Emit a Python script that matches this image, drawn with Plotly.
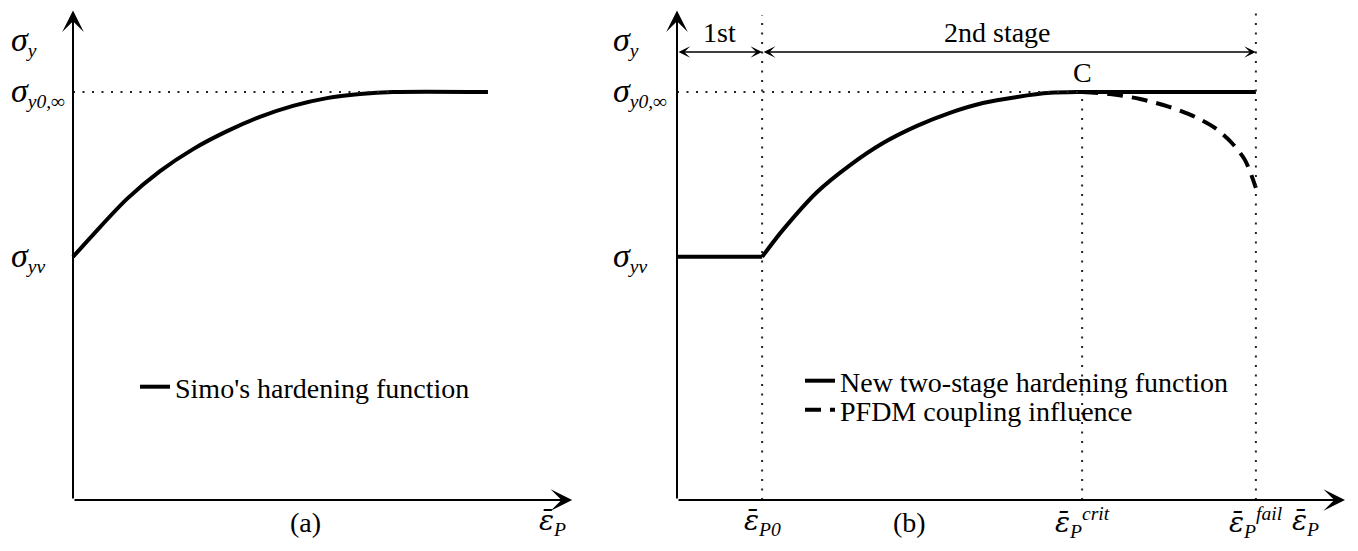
import plotly.graph_objects as go

# stress levels (normalised by sigma_y0,inf)
sigma_yv = 0.596
sigma_inf = 1.0

# plastic strain markers used in panel (b)
eps_p0 = 0.266
eps_crit = 1.266
eps_fail = 1.809

# (a) Simo's hardening curve
simo_eps = [0.0, 0.064, 0.173, 0.279, 0.385, 0.494, 0.599, 0.705, 0.814, 0.920, 1.026, 1.33]
simo_sig = [0.596, 0.650, 0.738, 0.806, 0.860, 0.904, 0.939, 0.966, 0.985, 0.995, 1.0, 1.0]

# (b) new two-stage hardening function (second stage, from eps_p0 on)
two_eps = [0.266, 0.331, 0.438, 0.541, 0.644, 0.750, 0.853, 0.956, 1.063, 1.166, 1.266, 1.809]
two_sig = [0.596, 0.662, 0.755, 0.821, 0.875, 0.917, 0.949, 0.973, 0.988, 0.998, 1.0, 1.0]

# (b) PFDM coupling influence (softening after C)
pfdm_eps = [1.266, 1.353, 1.447, 1.541, 1.619, 1.681, 1.734, 1.775, 1.809]
pfdm_sig = [1.0, 0.995, 0.983, 0.963, 0.939, 0.912, 0.875, 0.833, 0.765]

FONT = "'Liberation Serif', 'DejaVu Serif', serif"
FS = 28
DOT = "2px,7.5px"
y_top = 1.2      # tip of the vertical axes
x_top_a = 1.6    # tip of the horizontal axis in (a)
x_top_b = 2.0875 # tip of the horizontal axis in (b)
dim_y = 1.098    # level of the stage dimension arrows

# page layout: the browser body adds an 8px offset, origins of both panels in page pixels
W, H, SHIFT = 1358, 551, 8
OXA, OXB, OY = 73, 677, 500
SXA, SXB, SY = 312, 320, 408

def xrange_for(dom, ox, sx):
  left = dom[0] * W + SHIFT
  right = dom[1] * W + SHIFT
  return [(left - ox) / sx, (right - ox) / sx]

yrng = [(OY - (H + SHIFT)) / SY, (OY - SHIFT) / SY]
dom_a, dom_b = [0, 0.5], [0.44, 1]

fig = go.Figure()

# ---- curves
fig.add_trace(go.Scatter(x=simo_eps, y=simo_sig, mode="lines", name="Simo's hardening function",
                         line=dict(color="black", width=4, shape="spline", smoothing=0.8), legend="legend",
                         xaxis="x", yaxis="y", cliponaxis=False))
fig.add_trace(go.Scatter(x=[0, eps_p0], y=[sigma_yv, sigma_yv], mode="lines", showlegend=False,
                         line=dict(color="black", width=4), xaxis="x2", yaxis="y2"))
fig.add_trace(go.Scatter(x=two_eps, y=two_sig, mode="lines", name="New two-stage hardening function",
                         line=dict(color="black", width=4, shape="spline", smoothing=0.8), legend="legend2",
                         xaxis="x2", yaxis="y2", cliponaxis=False))
fig.add_trace(go.Scatter(x=pfdm_eps, y=pfdm_sig, mode="lines", name="PFDM coupling influence",
                         line=dict(color="black", width=4, dash="16px,9px", shape="spline", smoothing=0.8),
                         legend="legend3", xaxis="x2", yaxis="y2", cliponaxis=False))

# ---- dotted guide lines
def guide(xs, ys, xa, ya):
  fig.add_trace(go.Scatter(x=xs, y=ys, mode="lines", showlegend=False, hoverinfo="skip",
                           line=dict(color="#222", width=2, dash=DOT), xaxis=xa, yaxis=ya))

guide([0, simo_eps[-2]], [sigma_inf, sigma_inf], "x", "y")
guide([0, eps_crit], [sigma_inf, sigma_inf], "x2", "y2")
guide([eps_p0, eps_p0], [0, 1.189], "x2", "y2")
guide([eps_crit, eps_crit], [0, sigma_inf], "x2", "y2")
guide([eps_fail, eps_fail], [0, y_top], "x2", "y2")

# ---- axes drawn as arrows
anns = []
def arrow(x0, y0, x1, y1, xr, yr, width=2, size=1.8, both=False):
  a = dict(x=x1, y=y1, ax=x0, ay=y0, xref=xr, yref=yr, axref=xr, ayref=yr, text="",
           showarrow=True, arrowhead=3, arrowwidth=width, arrowsize=size, arrowcolor="black", standoff=0)
  if both:
    a.update(arrowside="end+start", startarrowhead=3, startarrowsize=size, startstandoff=0)
  anns.append(a)

arrow(0, 0, 0, y_top, "x", "y")
arrow(0, 0, x_top_a, 0, "x", "y")
arrow(0, 0, 0, y_top, "x2", "y2")
arrow(0, 0, x_top_b, 0, "x2", "y2")
arrow(0, dim_y, eps_p0, dim_y, "x2", "y2", width=1.5, size=1.3, both=True)
arrow(eps_p0, dim_y, eps_fail, dim_y, "x2", "y2", width=1.5, size=1.3, both=True)

# ---- text labels
def label(txt, x, y, xr, yr, xanchor="center", yanchor="middle"):
  anns.append(dict(text=txt, x=x, y=y, xref=xr, yref=yr, showarrow=False,
                   xanchor=xanchor, yanchor=yanchor, font=dict(family=FONT, size=FS, color="black")))

SIG = "<span style='font-size:34px'>σ</span>"
EPS = "<span style='font-family:DejaVu Serif;font-size:28px'>ε̄</span>"

for xr, yr in [("x", "y"), ("x2", "y2")]:
  label(f"<i>{SIG}<sub>y</sub></i>", -0.205, 1.125, xr, yr, xanchor="left")
  label(f"<i>{SIG}<sub>y0,∞</sub></i>", -0.205, sigma_inf, xr, yr, xanchor="left")
  label(f"<i>{SIG}<sub>yv</sub></i>", -0.205, sigma_yv, xr, yr, xanchor="left")

label("(a)", 0.744, -0.054, "x", "y")
label(f"<i>{EPS}<sub>P</sub></i>", 1.538, -0.054, "x", "y")
label("(b)", 0.728, -0.054, "x2", "y2")
label(f"<i>{EPS}<sub>P0</sub></i>", eps_p0, -0.054, "x2", "y2")
label(f"<i>{EPS}<sub>P</sub><sup>crit</sup></i>", eps_crit, -0.054, "x2", "y2")
label(f"<i>{EPS}<sub>P</sub><sup>fail</sup></i>", eps_fail, -0.054, "x2", "y2")
label(f"<i>{EPS}<sub>P</sub></i>", 1.9625, -0.054, "x2", "y2")
label("1st", 0.133, 1.147, "x2", "y2")
label("2nd stage", 1.0, 1.147, "x2", "y2")
label("C", eps_crit, 1.049, "x2", "y2")

noax = dict(visible=False, showgrid=False, zeroline=False, fixedrange=True)
leg = dict(xanchor="left", yanchor="middle", bgcolor="rgba(0,0,0,0)", font=dict(family=FONT, size=FS))

def lx(px):
  return (px - SHIFT) / W

def ly(px):
  return 1 - (px - SHIFT) / H

fig.update_layout(
  width=W, height=H,
  margin=dict(l=0, r=0, t=0, b=0),
  paper_bgcolor="white", plot_bgcolor="rgba(0,0,0,0)",
  font=dict(family=FONT, size=FS, color="black"),
  xaxis=dict(domain=dom_a, range=xrange_for(dom_a, OXA, SXA), **noax),
  yaxis=dict(domain=[0, 1], range=yrng, **noax),
  xaxis2=dict(domain=dom_b, range=xrange_for(dom_b, OXB, SXB), **noax),
  yaxis2=dict(domain=[0, 1], range=yrng, anchor="x2", **noax),
  legend=dict(x=lx(135), y=ly(387), **leg),
  legend2=dict(x=lx(800), y=ly(381), **leg),
  legend3=dict(x=lx(800), y=ly(410), **leg),
  annotations=anns,
  showlegend=True,
)

fig.write_html("out.html")
